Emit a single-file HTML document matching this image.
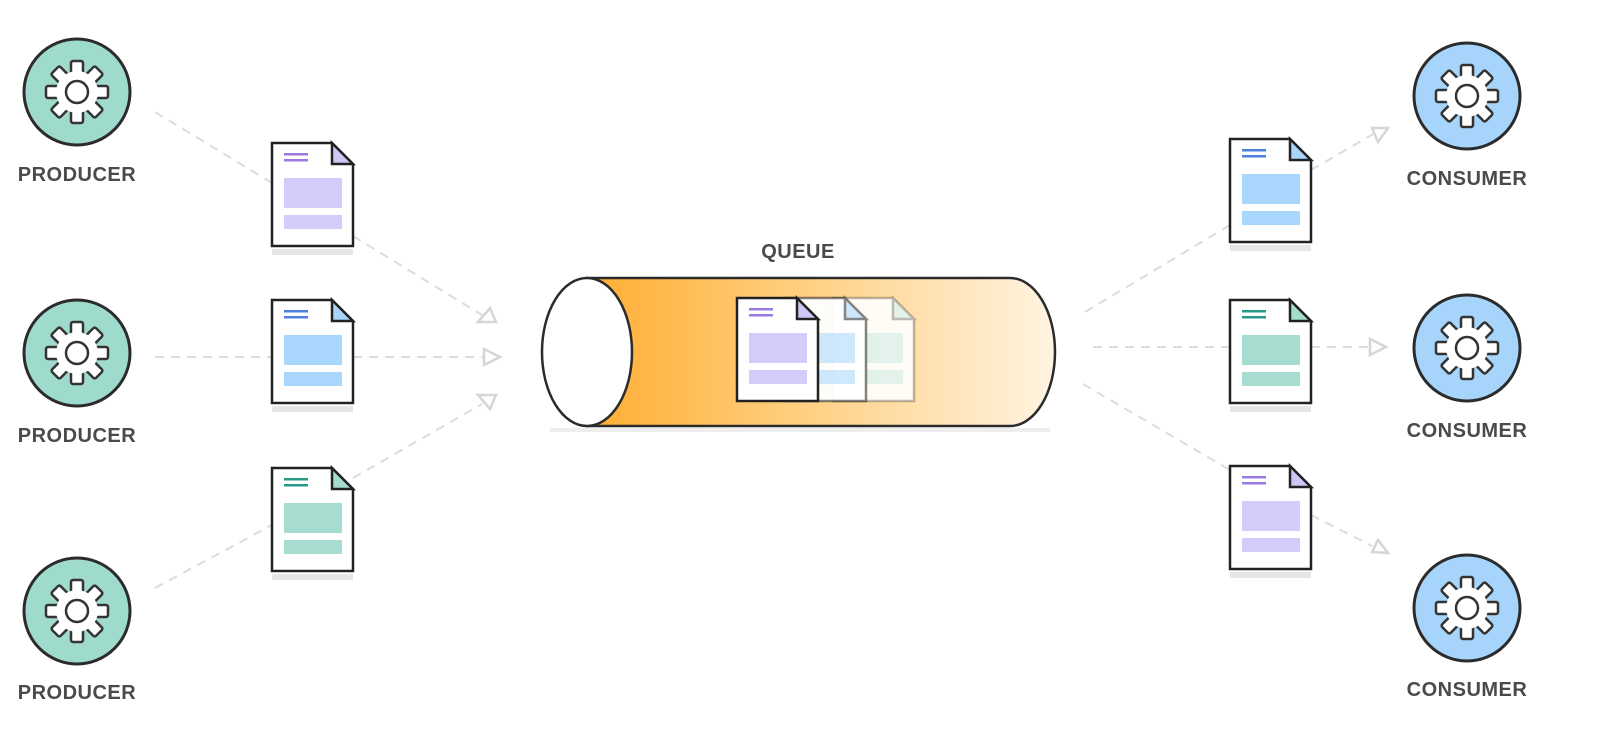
<!DOCTYPE html>
<html><head><meta charset="utf-8"><style>
html,body{margin:0;padding:0;background:#fff;}
svg{display:block}
text{font-family:"Liberation Sans","DejaVu Sans",sans-serif;font-weight:bold;fill:#4a4a4a;font-size:20px;text-anchor:middle;letter-spacing:0.5px}
</style></head><body>
<svg width="1603" height="755" viewBox="0 0 1603 755" xmlns="http://www.w3.org/2000/svg">
<defs>
<linearGradient id="og" x1="0" x2="1" y1="0" y2="0">
<stop offset="0" stop-color="#ffad33"/><stop offset="0.45" stop-color="#ffcf80"/><stop offset="1" stop-color="#fff4e2"/>
</linearGradient>
<g id="gear">
<g fill="#fff" stroke="#333" stroke-width="2.5">
<rect x="-6" y="-31" width="12" height="14" rx="2"/>
<rect x="-6" y="-31" width="12" height="14" rx="2" transform="rotate(45)"/>
<rect x="-6" y="-31" width="12" height="14" rx="2" transform="rotate(90)"/>
<rect x="-6" y="-31" width="12" height="14" rx="2" transform="rotate(135)"/>
<rect x="-6" y="-31" width="12" height="14" rx="2" transform="rotate(180)"/>
<rect x="-6" y="-31" width="12" height="14" rx="2" transform="rotate(225)"/>
<rect x="-6" y="-31" width="12" height="14" rx="2" transform="rotate(270)"/>
<rect x="-6" y="-31" width="12" height="14" rx="2" transform="rotate(315)"/>
</g>
<circle r="21" fill="#fff"/>
<circle r="11" fill="none" stroke="#333" stroke-width="2.5"/>
</g>
<g id="docP">
<rect x="0" y="106" width="81" height="6" fill="#e6e6e6"/>
<path d="M0,0H60L81,21V103H0Z" fill="#fff" stroke="#222" stroke-width="2.5"/>
<path d="M60,0V21H81Z" fill="#cfc6f7" stroke="#222" stroke-width="2.5"/>
<rect x="12" y="10" width="24" height="2.5" fill="#9b7be0"/><rect x="12" y="16" width="24" height="2.5" fill="#9b7be0"/>
<rect x="12" y="35" width="58" height="30" fill="#d6ccfb"/><rect x="12" y="72" width="58" height="14" fill="#d6ccfb"/>
</g>
<g id="docB">
<rect x="0" y="106" width="81" height="6" fill="#e6e6e6"/>
<path d="M0,0H60L81,21V103H0Z" fill="#fff" stroke="#222" stroke-width="2.5"/>
<path d="M60,0V21H81Z" fill="#a9d5fb" stroke="#222" stroke-width="2.5"/>
<rect x="12" y="10" width="24" height="2.5" fill="#4f7fe0"/><rect x="12" y="16" width="24" height="2.5" fill="#4f7fe0"/>
<rect x="12" y="35" width="58" height="30" fill="#a8d6fc"/><rect x="12" y="72" width="58" height="14" fill="#a8d6fc"/>
</g>
<g id="docG">
<rect x="0" y="106" width="81" height="6" fill="#e6e6e6"/>
<path d="M0,0H60L81,21V103H0Z" fill="#fff" stroke="#222" stroke-width="2.5"/>
<path d="M60,0V21H81Z" fill="#a4dccd" stroke="#222" stroke-width="2.5"/>
<rect x="12" y="10" width="24" height="2.5" fill="#259a86"/><rect x="12" y="16" width="24" height="2.5" fill="#259a86"/>
<rect x="12" y="35" width="58" height="30" fill="#a6ddd0"/><rect x="12" y="72" width="58" height="14" fill="#a6ddd0"/>
</g>
</defs>

<g stroke="#dcdcdc" stroke-width="2" stroke-dasharray="9,7" fill="none">
<path d="M155,112L272,183"/><path d="M353,236L482,315"/>
<path d="M155,357H272"/><path d="M353,357H483"/>
<path d="M155,588L272,525"/><path d="M353,478L482,404"/>
<path d="M1085,312L1230,225"/><path d="M1311,170L1375,133"/>
<path d="M1093,347H1230"/><path d="M1311,347H1372"/>
<path d="M1083,384L1230,470"/><path d="M1311,515L1372,546"/>
</g>
<g stroke="#d6d6d6" stroke-width="2.5" fill="#fff">
<path d="M478,322L496,322L490,308Z"/>
<path d="M484,349L500,357L484,365Z"/>
<path d="M478,395L496,395L490,409Z"/>
<path d="M1372,128L1388,128L1378,142Z"/>
<path d="M1370,339L1386,347L1370,355Z"/>
<path d="M1372,552L1388,553L1378,540Z"/>
</g>

<g stroke="#2b2b2b" stroke-width="3" fill="#9fdbcd">
<circle cx="77" cy="92" r="53"/><circle cx="77" cy="353" r="53"/><circle cx="77" cy="611" r="53"/>
</g>
<use href="#gear" x="77" y="92"/><use href="#gear" x="77" y="353"/><use href="#gear" x="77" y="611"/>
<text x="77" y="181">PRODUCER</text><text x="77" y="442">PRODUCER</text><text x="77" y="699">PRODUCER</text>

<g stroke="#2b2b2b" stroke-width="3" fill="#a6d4fb">
<circle cx="1467" cy="96" r="53"/><circle cx="1467" cy="348" r="53"/><circle cx="1467" cy="608" r="53"/>
</g>
<use href="#gear" x="1467" y="96"/><use href="#gear" x="1467" y="348"/><use href="#gear" x="1467" y="608"/>
<text x="1467" y="185">CONSUMER</text><text x="1467" y="437">CONSUMER</text><text x="1467" y="696">CONSUMER</text>

<use href="#docP" x="272" y="143"/><use href="#docB" x="272" y="300"/><use href="#docG" x="272" y="468"/>
<use href="#docB" x="1230" y="139"/><use href="#docG" x="1230" y="300"/><use href="#docP" x="1230" y="466"/>

<text x="798" y="258">QUEUE</text>
<rect x="550" y="428" width="500" height="4" fill="#eee"/>
<path d="M587,278H1010A45,74 0 0 1 1010,426H587Z" fill="url(#og)" stroke="#2b2b2b" stroke-width="2.5"/>
<ellipse cx="587" cy="352" rx="45" ry="74" fill="#fff" stroke="#2b2b2b" stroke-width="2.5"/>
<path d="M833,298H893L914,319V401H833Z" fill="#fff" opacity="0.9"/>
<g opacity="0.3"><path d="M0,0H60L81,21V103H0Z" transform="translate(833,298)" fill="none" stroke="#222" stroke-width="2.5"/>
<g transform="translate(833,298)"><path d="M60,0V21H81Z" fill="#a4dccd" stroke="#222" stroke-width="2.5"/><rect x="12" y="35" width="58" height="30" fill="#a6ddd0"/><rect x="12" y="72" width="58" height="14" fill="#a6ddd0"/></g></g>
<path d="M785,298H845L866,319V401H785Z" fill="#fff" opacity="0.95"/>
<g opacity="0.55" transform="translate(785,298)"><path d="M0,0H60L81,21V103H0Z" fill="none" stroke="#222" stroke-width="2.5"/>
<path d="M60,0V21H81Z" fill="#a9d5fb" stroke="#222" stroke-width="2.5"/><rect x="12" y="35" width="58" height="30" fill="#a8d6fc"/><rect x="12" y="72" width="58" height="14" fill="#a8d6fc"/></g>
<g transform="translate(737,298)">
<path d="M0,0H60L81,21V103H0Z" fill="#fff" stroke="#222" stroke-width="2.5"/>
<path d="M60,0V21H81Z" fill="#cfc6f7" stroke="#222" stroke-width="2.5"/>
<rect x="12" y="10" width="24" height="2.5" fill="#9b7be0"/><rect x="12" y="16" width="24" height="2.5" fill="#9b7be0"/>
<rect x="12" y="35" width="58" height="30" fill="#d6ccfb"/><rect x="12" y="72" width="58" height="14" fill="#d6ccfb"/>
</g>
</svg>
</body></html>
